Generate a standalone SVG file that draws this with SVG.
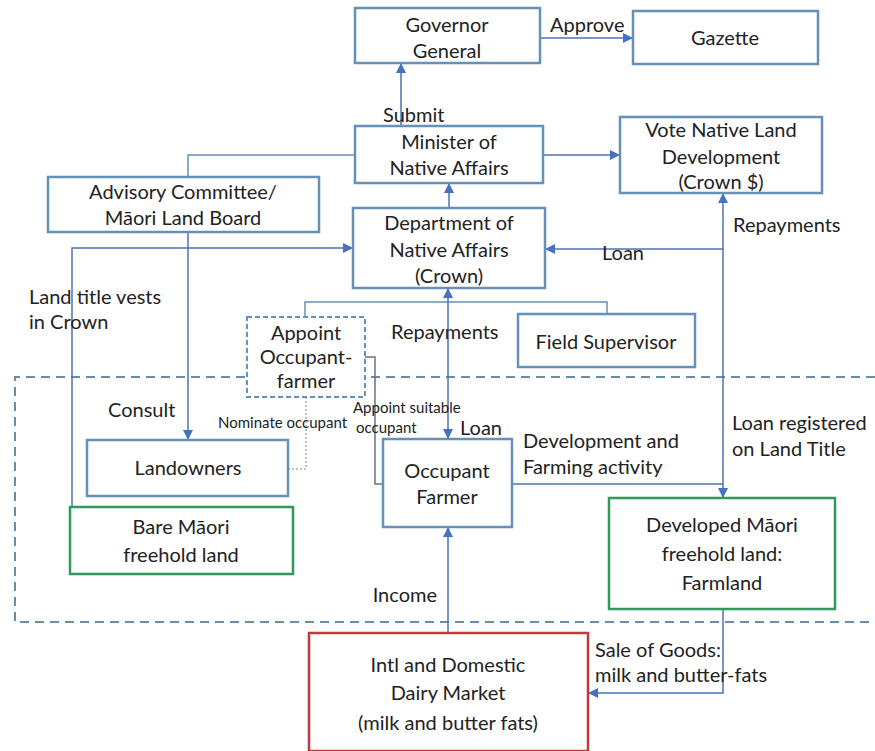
<svg xmlns="http://www.w3.org/2000/svg" width="875" height="751" viewBox="0 0 875 751">
<defs>
<marker id="ah" viewBox="0 0 10 10" refX="10" refY="5" markerWidth="10" markerHeight="10" markerUnits="userSpaceOnUse" orient="auto-start-reverse">
<path d="M0,0 L10,5 L0,10 z" fill="#4472c4"/>
</marker>
<style>
text{font-family:Lato,"Liberation Sans",sans-serif;font-size:20px;fill:#222}
.c{text-anchor:middle}
.s{font-size:15px}
.box{fill:#fff;stroke:#6590b8;stroke-width:2.5}
.green{fill:#fff;stroke:#2e9a5c;stroke-width:2.5}
.red{fill:#fff;stroke:#c0393b;stroke-width:2.5}
.dbox{fill:#fff;stroke:#6590b8;stroke-width:2;stroke-dasharray:5 3}
.ln{fill:none;stroke:#4a72b4;stroke-width:1.5}
.lg{fill:none;stroke:#6590b8;stroke-width:1.5}
.gr{fill:none;stroke:#6b7480;stroke-width:1.5}
.dt{fill:none;stroke:#a8adb3;stroke-width:1.5;stroke-dasharray:2 2}
.bd{fill:none;stroke:#6a8cab;stroke-width:2;stroke-dasharray:9 6}
</style>
</defs>
<rect width="875" height="751" fill="#fff"/>
<path class="bd" d="M875,377 H15 V622 H875"/>
<g id="connectors">
<path class="ln" d="M540,38 H633" marker-end="url(#ah)"/>
<path class="ln" d="M401,126 V63" marker-end="url(#ah)"/>
<path class="ln" d="M543,155 H620" marker-end="url(#ah)"/>
<path class="lg" d="M355,155 H188 V177"/>
<path class="ln" d="M188,232 V440" marker-end="url(#ah)"/>
<path class="ln" d="M72,507 V248 H353" marker-end="url(#ah)"/>
<path class="ln" d="M449,208 V183" marker-end="url(#ah)"/>
<path class="ln" d="M723,193 V498" marker-start="url(#ah)" marker-end="url(#ah)"/>
<path class="ln" d="M723,249 H545" marker-end="url(#ah)"/>
<path class="ln" d="M512,484 H723"/>
<path class="lg" d="M305,317 V302 H607 V314"/>
<path class="ln" d="M448,288 V439" marker-start="url(#ah)" marker-end="url(#ah)"/>
<path class="gr" d="M365,357 H375 V484 H383"/>
<path class="dt" d="M306,397 V469 H288"/>
<path class="ln" d="M448,632 V527" marker-end="url(#ah)"/>
<path class="ln" d="M723,609 V693 H588" marker-end="url(#ah)"/>
</g>
<g id="labels">
<text x="550" y="32">Approve</text>
<text x="383" y="122">Submit</text>
<text x="602" y="260">Loan</text>
<text x="733" y="232">Repayments</text>
<text x="29" y="304">Land title vests</text>
<text x="29" y="329">in Crown</text>
<text x="108" y="417">Consult</text>
<text class="s" x="218" y="428">Nominate occupant</text>
<text class="s" x="353" y="413">Appoint suitable</text>
<text class="s" x="356" y="433">occupant</text>
<text x="391" y="339">Repayments</text>
<text x="460" y="435">Loan</text>
<text x="523" y="448">Development and</text>
<text x="523" y="474">Farming activity</text>
<text x="732" y="430">Loan registered</text>
<text x="732" y="456">on Land Title</text>
<text x="437" y="602" text-anchor="end">Income</text>
<text x="595" y="657">Sale of Goods:</text>
<text x="595" y="682">milk and butter-fats</text>
</g>
<g id="governor">
<rect class="box" x="355" y="8" width="185" height="55"/>
<text class="c" x="447" y="32">Governor</text>
<text class="c" x="447" y="58">General</text>
</g>
<g id="gazette">
<rect class="box" x="633" y="11" width="185" height="53"/>
<text class="c" x="725" y="45">Gazette</text>
</g>
<g id="minister">
<rect class="box" x="355" y="126" width="188" height="57"/>
<text class="c" x="449" y="149">Minister of</text>
<text class="c" x="449" y="175">Native Affairs</text>
</g>
<g id="vote">
<rect class="box" x="620" y="117" width="202" height="76"/>
<text class="c" x="721" y="137">Vote Native Land</text>
<text class="c" x="721" y="164">Development</text>
<text class="c" x="721" y="189">(Crown $)</text>
</g>
<g id="advisory">
<rect class="box" x="48" y="177" width="271" height="55"/>
<text class="c" x="183" y="199">Advisory Committee/</text>
<text class="c" x="183" y="225">Māori Land Board</text>
</g>
<g id="department">
<rect class="box" x="353" y="208" width="192" height="80"/>
<text class="c" x="449" y="230">Department of</text>
<text class="c" x="449" y="257">Native Affairs</text>
<text class="c" x="449" y="283">(Crown)</text>
</g>
<g id="field-supervisor">
<rect class="box" x="518" y="314" width="177" height="53"/>
<text class="c" x="606" y="349">Field Supervisor</text>
</g>
<g id="appoint">
<rect class="dbox" x="247" y="317" width="118" height="80"/>
<text class="c" x="306" y="340">Appoint</text>
<text class="c" x="306" y="364">Occupant-</text>
<text class="c" x="306" y="388">farmer</text>
</g>
<g id="landowners">
<rect class="box" x="87" y="440" width="201" height="56"/>
<text class="c" x="188" y="475">Landowners</text>
</g>
<g id="bare-land">
<rect class="green" x="70" y="507" width="223" height="67"/>
<text class="c" x="181" y="534">Bare Māori</text>
<text class="c" x="181" y="562">freehold land</text>
</g>
<g id="occupant">
<rect class="box" x="383" y="439" width="129" height="88"/>
<text class="c" x="447" y="478">Occupant</text>
<text class="c" x="447" y="504">Farmer</text>
</g>
<g id="developed-land">
<rect class="green" x="609" y="498" width="226" height="111"/>
<text class="c" x="722" y="532">Developed Māori</text>
<text class="c" x="722" y="561">freehold land:</text>
<text class="c" x="722" y="590">Farmland</text>
</g>
<g id="dairy">
<rect class="red" x="309" y="633" width="279" height="118"/>
<text class="c" x="448" y="672">Intl and Domestic</text>
<text class="c" x="448" y="700">Dairy Market</text>
<text class="c" x="448" y="730">(milk and butter fats)</text>
</g>
</svg>
